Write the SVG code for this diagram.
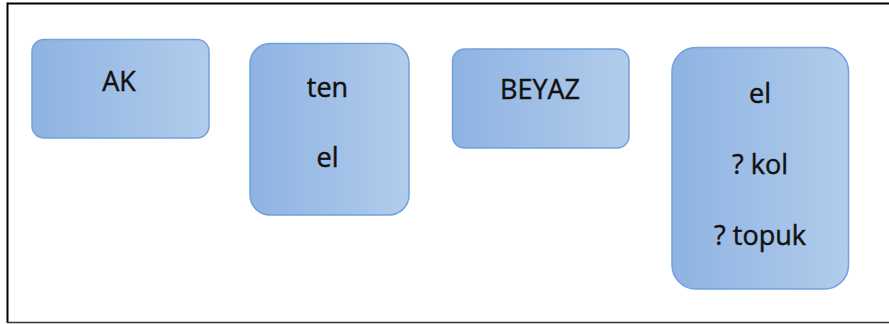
<svg xmlns="http://www.w3.org/2000/svg" width="889" height="324" viewBox="0 0 889 324">
  <defs>
    <linearGradient id="g" x1="0" y1="0" x2="1" y2="0">
      <stop offset="0" stop-color="#8eb3e2"/>
      <stop offset="1" stop-color="#b2cceb"/>
    </linearGradient>
    <style>
      .box { fill: url(#g); stroke: #6fa2dc; stroke-width: 1.5; }
      .t { font-family: "Open Sans", "Liberation Sans", sans-serif; font-size: 27px; fill: #111; stroke: #111; stroke-width: 0.45; text-anchor: middle; }
      .frame { stroke: #000; fill: none; }
    </style>
  </defs>
  <rect width="889" height="324" fill="#fff"/>
  <g id="frame">
    <line class="frame" x1="7.5" y1="3.5" x2="889" y2="3.5" stroke-width="2"/>
    <line class="frame" x1="7.5" y1="2.5" x2="7.5" y2="323" stroke-width="2"/>
    <line class="frame" x1="7" y1="322.5" x2="889" y2="322.5" stroke-width="1.6" style="stroke:#333"/>
  </g>
  <g id="node-ak">
    <rect class="box" x="32" y="39.5" width="177" height="98.5" rx="12"/>
    <text class="t" x="119" y="90.5">AK</text>
  </g>
  <g id="node-ten-el">
    <rect class="box" x="250" y="43.5" width="159" height="171.5" rx="20"/>
    <text class="t" x="327.5" y="96.5">ten</text>
    <text class="t" x="327.5" y="166.5">el</text>
  </g>
  <g id="node-beyaz">
    <rect class="box" x="452.5" y="49" width="176.5" height="99" rx="12"/>
    <text class="t" x="540" y="98.5">BEYAZ</text>
  </g>
  <g id="node-el-kol-topuk">
    <rect class="box" x="672" y="47.5" width="176.5" height="241.5" rx="24"/>
    <text class="t" x="760" y="102.5">el</text>
    <text class="t" x="760" y="174">? kol</text>
    <text class="t" x="760" y="245">? topuk</text>
  </g>
  <g id="connectors"/>
</svg>
